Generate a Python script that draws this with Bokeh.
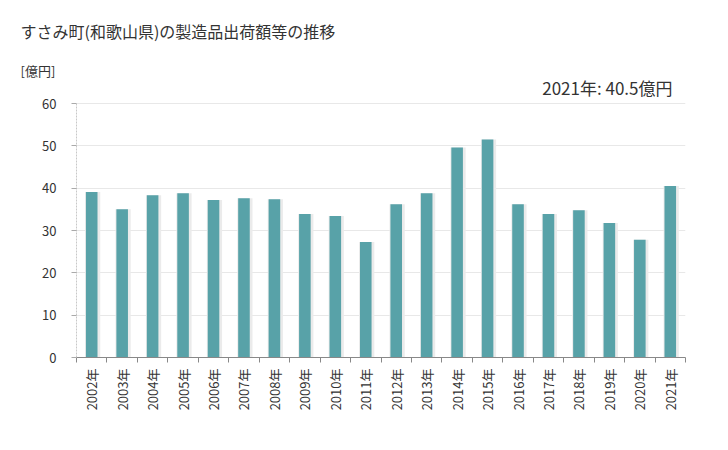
from bokeh.plotting import figure
from bokeh.models import Label, ColumnDataSource, FixedTicker, LinearAxis, Range1d, Title
from bokeh.embed import file_html
from bokeh.resources import INLINE

years = ["2002年", "2003年", "2004年", "2005年", "2006年", "2007年", "2008年", "2009年", "2010年", "2011年",
         "2012年", "2013年", "2014年", "2015年", "2016年", "2017年", "2018年", "2019年", "2020年", "2021年"]
values = [39.1, 35.0, 38.3, 38.8, 37.2, 37.6, 37.4, 33.9, 33.4, 27.3,
          36.2, 38.8, 49.6, 51.5, 36.2, 33.9, 34.8, 31.8, 27.8, 40.5]
y_ticks = [0, 10, 20, 30, 40, 50, 60]
title_text = "すさみ町(和歌山県)の製造品出荷額等の推移"
unit_text = "[億円]"
note_text = "2021年: 40.5億円"

FONT = "Noto Sans CJK JP"

n = len(years)
centers = [i + 0.5 for i in range(n)]
src = ColumnDataSource(dict(x=centers, xs=[c + 0.03 for c in centers], value=values))

# frame extends above the 60 line so the note sits inside it; axis bounded to 0..60
p = figure(x_range=Range1d(0, n), y_range=Range1d(0, 65.67), width=712, height=434,
           output_backend="svg", toolbar_location=None, x_axis_type=None,
           min_border_left=76, min_border_right=27, min_border_top=79, min_border_bottom=77)

p.vbar(x="xs", top="value", width=0.5, source=src, fill_color="#ebebeb", line_color=None)
p.vbar(x="x", top="value", width=0.38, source=src, fill_color="#58a2a8", line_color=None)

p.outline_line_color = None
p.ygrid.grid_line_color = "#e8e8e8"
p.ygrid.ticker = FixedTicker(ticks=y_ticks)
p.yaxis.ticker = FixedTicker(ticks=y_ticks)
p.yaxis.bounds = (0, 60)
p.yaxis.axis_line_color = "#c8c8c8"
p.yaxis.axis_line_dash = "2 1"
p.yaxis.major_tick_line_color = "#aaaaaa"
p.yaxis.major_tick_in = 0
p.yaxis.major_tick_out = 5
p.yaxis.minor_tick_line_color = None
p.yaxis.major_label_text_font = FONT
p.yaxis.major_label_text_font_size = "13px"
p.yaxis.major_label_text_color = "#333333"
p.yaxis.major_label_standoff = 15

# boundary ticks between categories
tick_axis = LinearAxis(ticker=FixedTicker(ticks=list(range(n + 1))),
                       axis_line_color="#888888", major_tick_line_color="#888888",
                       major_tick_in=0, major_tick_out=5, minor_tick_line_color=None,
                       major_label_overrides={i: "" for i in range(n + 1)},
                       major_label_text_font_size="1px", major_label_standoff=0)
# category labels at bar centres
label_axis = LinearAxis(ticker=FixedTicker(ticks=centers),
                        axis_line_color=None, major_tick_line_color=None,
                        minor_tick_line_color=None,
                        major_label_overrides={c: y for c, y in zip(centers, years)},
                        major_label_orientation=1.5708, major_label_standoff=0,
                        major_label_text_font=FONT, major_label_text_font_size="13px",
                        major_label_text_color="#333333")
p.add_layout(tick_axis, "below")
p.add_layout(label_axis, "below")

p.add_layout(Title(text=unit_text, align="left", offset=-56, standoff=0,
                   text_font=FONT, text_font_size="13px", text_font_style="normal",
                   text_color="#333333"), "above")
p.add_layout(Title(text=title_text, align="left", offset=-56, standoff=32,
                   text_font=FONT, text_font_size="16px", text_font_style="normal",
                   text_color="#333333"), "above")

p.add_layout(Label(x=596, y=270, x_units="screen", y_units="screen", text=note_text,
                   text_align="right", text_baseline="middle",
                   text_font=FONT, text_font_size="17px", text_color="#333333"))

open("out.html", "w").write(file_html(p, INLINE))
